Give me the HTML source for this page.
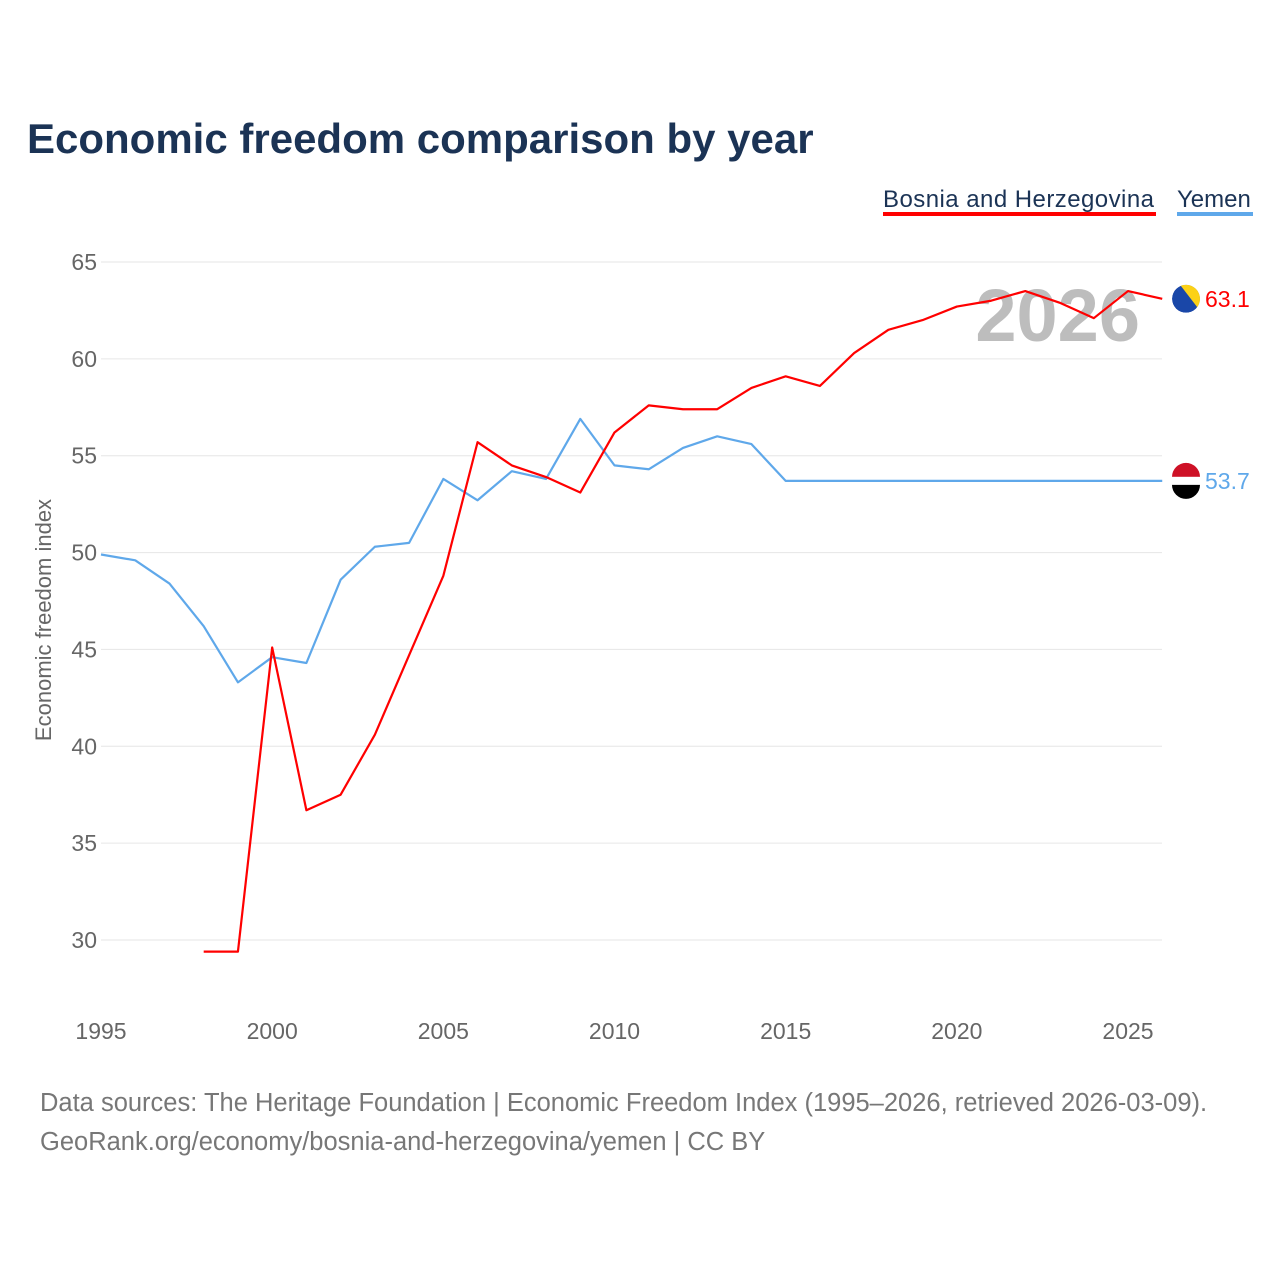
<!DOCTYPE html>
<html><head><meta charset="utf-8"><style>
body{margin:0;width:1280px;height:1280px;background:#fff;font-family:"Liberation Sans",sans-serif;overflow:hidden}
</style></head><body>
<svg id="chart" width="1280" height="1280" xmlns="http://www.w3.org/2000/svg">
<defs><clipPath id="flagclip"><circle cx="1186" cy="297" r="14"/></clipPath></defs>
<text x="27" y="153" font-size="42" font-weight="bold" fill="#1b3355">Economic freedom comparison by year</text>
<g><text x="883" y="207" font-size="24" fill="#1b3355" textLength="271">Bosnia and Herzegovina</text><rect x="883" y="212" width="273" height="4" fill="#ff0000"/></g>
<g><text x="1177" y="207" font-size="24" fill="#1b3355">Yemen</text><rect x="1177" y="212" width="76" height="4" fill="#5fa8ea"/></g>
<text x="1140" y="341" font-size="74" font-weight="bold" fill="#bdbdbd" text-anchor="end">2026</text>
<text transform="translate(51,620) rotate(-90)" font-size="22" fill="#666" text-anchor="middle">Economic freedom index</text>
<g id="grid"></g><g id="series"></g>
<text x="40" y="1111" font-size="25.5" fill="#777">Data sources: The Heritage Foundation | Economic Freedom Index (1995–2026, retrieved 2026-03-09).</text>
<text x="40" y="1150" font-size="25.5" fill="#777">GeoRank.org/economy/bosnia-and-herzegovina/yemen | CC BY</text>
</svg>
<script>
const yTicks=[30,35,40,45,50,55,60,65];
const xTicks=[1995,2000,2005,2010,2015,2020,2025];
const yemenYears=[];for(let y=1995;y<=2026;y++)yemenYears.push(y);
const yemenValues=[49.9,49.6,48.4,46.2,43.3,44.6,44.3,48.6,50.3,50.5,53.8,52.7,54.2,53.8,56.9,54.5,54.3,55.4,56.0,55.6,53.7,53.7,53.7,53.7,53.7,53.7,53.7,53.7,53.7,53.7,53.7,53.7];
const bihYears=[];for(let y=1998;y<=2026;y++)bihYears.push(y);
const bihValues=[29.4,29.4,45.1,36.7,37.5,40.6,44.7,48.8,55.7,54.5,53.9,53.1,56.2,57.6,57.4,57.4,58.5,59.1,58.6,60.3,61.5,62.0,62.7,63.0,63.5,62.9,62.1,63.5,63.1];
const NS="http://www.w3.org/2000/svg";
const X=v=>101+(v-1995)*(1128-101)/30;
const Y=v=>262+(65-v)*(940-262)/35;
const grid=document.getElementById('grid'),ser=document.getElementById('series');
function mk(t,a,p){const e=document.createElementNS(NS,t);for(const k in a)e.setAttribute(k,a[k]);p.appendChild(e);return e;}
yTicks.forEach(v=>{
 const l=mk('line',{x1:101,x2:1162,y1:Y(v),y2:Y(v),stroke:'#e6e6e6','stroke-width':1},grid);
 
 
 const t=mk('text',{x:97,y:Y(v)+8,'font-size':23,fill:'#666','text-anchor':'end'},grid);t.textContent=v;
 
 
});
xTicks.forEach(v=>{
 const t=mk('text',{x:X(v),y:1039,'font-size':23,fill:'#666','text-anchor':'middle'},grid);t.textContent=v;
 
 
});
function line(years,vals,color,name){
 const p=mk('polyline',{points:years.map((y,i)=>X(y)+','+Y(vals[i])).join(' '),fill:'none',stroke:color,'stroke-width':2.2,'stroke-linejoin':'round'},ser);
 
 
}
line(yemenYears,yemenValues,'#5fa8ea','yemen-line');
line(bihYears,bihValues,'#ff0000','bosnia-line');
function endLabel(years,vals,color,name,flag){
 const lv=vals[vals.length-1],yy=Y(lv);
 const c=mk('g',{},ser);
 
 
 if(flag==='bih'){
  document.querySelector('#flagclip circle').setAttribute('cy',yy);
  c.setAttribute('clip-path','url(#flagclip)');
  mk('circle',{cx:1186,cy:yy,r:14,fill:'#1a47a8'},c);
  mk('path',{d:`M1180 ${yy-14} L1200 ${yy-14} L1200 ${yy+12} Z`,fill:'#fcd116'},c);
 }else{
  mk('path',{d:`M1172 ${yy-4} A14 14 0 0 1 1200 ${yy-4} Z`,fill:'#ce1126'},c);
  mk('rect',{x:1172,y:yy-4,width:28,height:8,fill:'#fff'},c);
  mk('path',{d:`M1172 ${yy+4} A14 14 0 0 0 1200 ${yy+4} Z`,fill:'#000'},c);
 }
 const t=mk('text',{x:1205,y:yy+8,'font-size':23,fill:color},ser);t.textContent=lv.toFixed(1);
 
 
}
endLabel(bihYears,bihValues,'#ff0000','bosnia','bih');
endLabel(yemenYears,yemenValues,'#5fa8ea','yemen','yem');
</script>
</body></html>
